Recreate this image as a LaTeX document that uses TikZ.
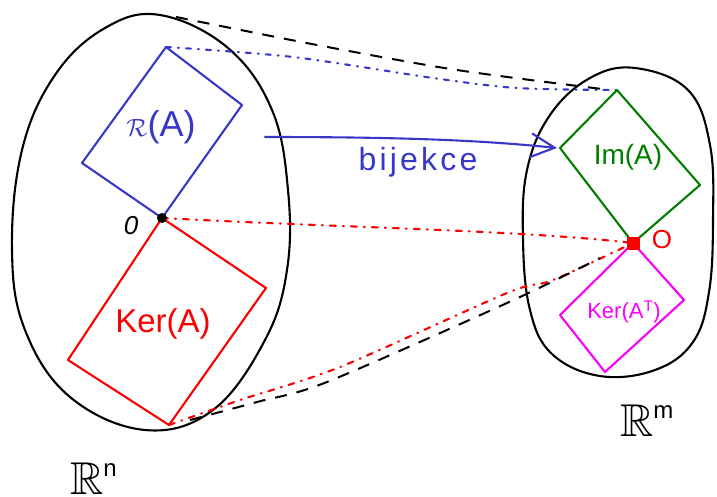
\documentclass[tikz,border=0pt]{standalone}
\usepackage{amssymb}
\usepackage{fontspec}
\setmainfont{Liberation Sans}
\newfontfamily\spacedfont[LetterSpace=10]{Liberation Sans}
\usetikzlibrary{arrows.meta,calc}
\definecolor{penblue}{RGB}{55,55,200}
\definecolor{penred}{RGB}{250,0,0}
\definecolor{pengreen}{RGB}{0,125,0}
\definecolor{penmag}{RGB}{250,0,250}
\tikzset{
  pen/.style={line width=2.1pt, line join=round, line cap=round},
  blob/.style={pen, black},
  blackdash/.style={line width=2pt, black, dash pattern=on 12pt off 10pt},
  bluedashdot/.style={line width=2.1pt, penblue, dash pattern=on 5pt off 7pt on 1pt off 7pt, line cap=round},
  reddashdot/.style={line width=2.1pt, penred, dash pattern=on 6pt off 7pt on 1pt off 7pt, line cap=round},
  lbl/.style={inner sep=0pt, font=\fontsize{28}{32}\selectfont}
}
\begin{document}
\begin{tikzpicture}[x=1pt,y=-1pt]
\useasboundingbox (0,0) rectangle (717,496);
% left space R^n
\draw[blob] plot[smooth cycle, tension=0.65] coordinates {(160,15) (228,48) (272,110) (288,190) (287,270) (265,340) (213,410) (145,430) (70,397) (25,330) (12,250) (22,150) (55,75) (105,28)};
% right space R^m
\draw[blob] plot[smooth cycle, tension=0.65] coordinates {(635,68) (688,90) (710,145) (713,220) (709,292) (693,342) (655,370) (600,376) (552,354) (530,310) (523,240) (527,170) (550,115) (590,78)};
% corner coordinates
\coordinate (o1) at (162,218);
\coordinate (o2) at (633,243);
\coordinate (rt) at (166,47);
\coordinate (rr) at (242,105);
\coordinate (rl) at (82,163);
\coordinate (kr) at (266,288);
\coordinate (kb) at (169,425);
\coordinate (kl) at (68,360);
\coordinate (it) at (617,90);
\coordinate (il) at (560,148);
\coordinate (ir) at (700,185);
\coordinate (tr) at (684,300);
\coordinate (tb) at (605,372);
\coordinate (tl) at (560,315);
% projection lines
\draw[blackdash] plot[smooth, tension=0.5] coordinates {(176,17) (317,45) (457,70) (610,90)};
\draw[bluedashdot] plot[smooth, tension=0.5] coordinates {(rt) (293,57) (433,78) (517,88) (it)};
\draw[reddashdot] (o1) .. controls (350,228) and (520,230) .. (o2);
\draw[reddashdot] plot[smooth, tension=0.5] coordinates {(kb) (240,400) (340,367) (507,293) (553,280) (o2)};
\draw[blackdash] plot[smooth, tension=0.5] coordinates {(190,420) (257,402) (327,382) (507,303) (600,258)};
% subspaces
\draw[pen, penblue] (rt) -- (rr) -- (o1) -- (rl) -- cycle;
\draw[pen, penred] (o1) -- (kr) -- (kb) -- (kl) -- cycle;
\draw[pen, pengreen] (it) -- (ir) -- (o2) -- (il) -- cycle;
\draw[pen, penmag] (o2) -- (tr) -- (tb) -- (tl) -- cycle;
% labels
\node[lbl, penblue] (rA) at (161,127) {\fontsize{36}{40}\selectfont$\mathcal{R}$(A)};
\node[lbl, penred] (kA) at (163,324) {\fontsize{33}{38}\selectfont Ker(A)};
\node[lbl, pengreen] (iA) at (628,157) {\fontsize{28}{32}\selectfont Im(A)};
\node[lbl, penmag] (kAT) at (624,312) {\fontsize{22}{26}\selectfont Ker(A\textsuperscript{T})};
% origins
\fill[black] (o1) circle (5pt);
\fill[penred] ($(o2)+(-6.5,-6.5)$) rectangle ($(o2)+(6.5,6.5)$);
\node[lbl, black] (z1) at (131,226) {\fontsize{26}{30}\selectfont\itshape 0};
\node[lbl, penred] (z2) at (662,240) {\fontsize{26}{30}\selectfont O};
% bijection arrow
\coordinate (bs) at (265,137);
\coordinate (be) at (557,148);
\draw[pen, penblue, -{Straight Barb[length=24pt,width=24pt,line width=2.1pt]}] (bs) .. controls (400,137) and (480,140) .. (be);
\node[lbl, penblue] (bij) at (418,162) {\spacedfont\fontsize{32}{36}\selectfont bijekce};
% space names
\node[lbl, black, anchor=base west] (Rn) at (70,494) {\fontsize{46}{50}\selectfont$\mathbb{R}$\raisebox{18pt}{\fontsize{24}{28}\selectfont n}};
\node[lbl, black, anchor=base west] (Rm) at (620,436) {\fontsize{46}{50}\selectfont$\mathbb{R}$\raisebox{18pt}{\fontsize{24}{28}\selectfont m}};
\end{tikzpicture}
\end{document}
